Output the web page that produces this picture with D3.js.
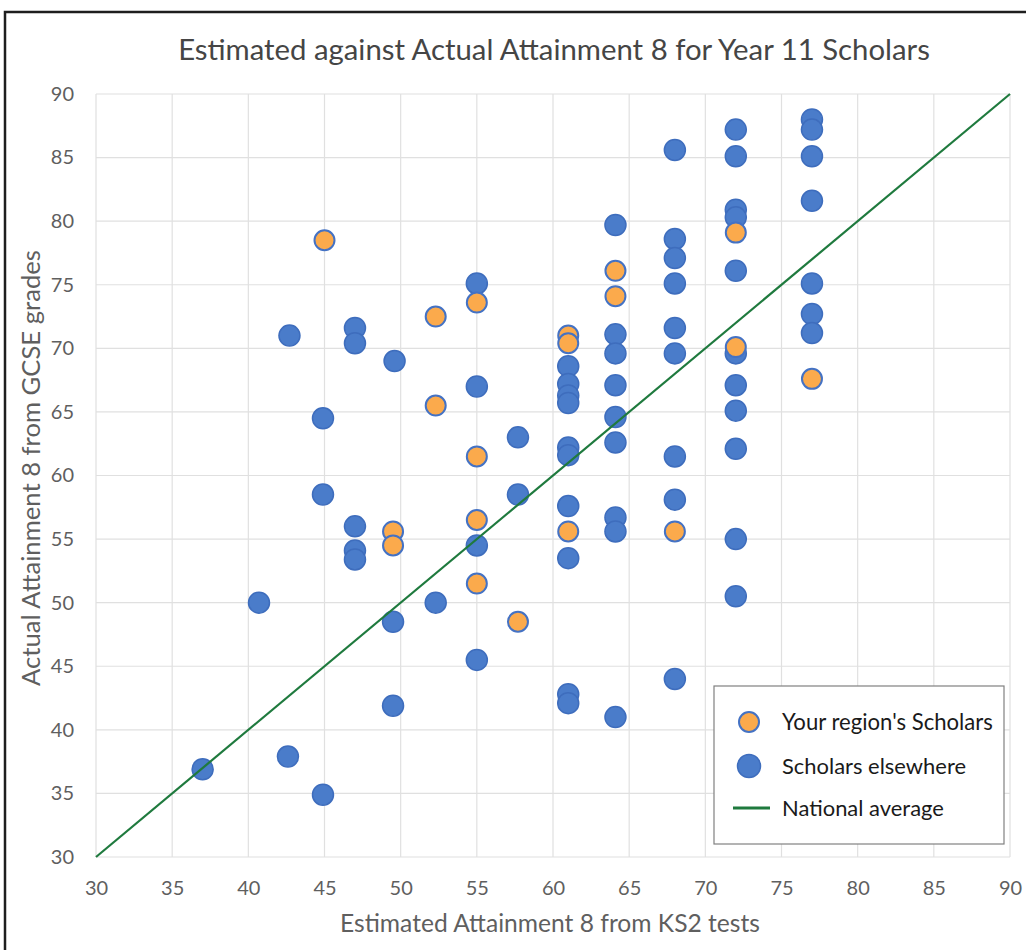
<!DOCTYPE html>
<html>
<head>
<meta charset="utf-8">
<script src="https://cdn.jsdelivr.net/npm/d3@7"></script>
<style>
  html, body { margin: 0; padding: 0; background: #fff; }
  svg { display: block; }
</style>
</head>
<body>
<svg id="chart" width="1026" height="950"></svg>
<script>
// ---- Data ----
const titleText = "Estimated against Actual Attainment 8 for Year 11 Scholars";
const xAxisTitle = "Estimated Attainment 8 from KS2 tests";
const yAxisTitle = "Actual Attainment 8 from GCSE grades";
const xTicks = [30, 35, 40, 45, 50, 55, 60, 65, 70, 75, 80, 85, 90];
const yTicks = [30, 35, 40, 45, 50, 55, 60, 65, 70, 75, 80, 85, 90];
const seriesNames = ["Your region's Scholars", "Scholars elsewhere", "National average"];

// Your region's Scholars [estimated, actual]
const regionScholars = [
  [45, 78.5], [49.5, 55.6], [49.5, 54.5], [52.3, 72.5], [52.3, 65.5],
  [55, 73.6], [55, 61.5], [55, 56.5], [55, 51.5], [57.7, 48.5],
  [61, 71.0], [61, 70.4], [61, 55.6], [64.1, 76.1], [64.1, 74.1],
  [68, 55.6], [72, 79.1], [72, 70.1], [77, 67.6]
];

// Scholars elsewhere [estimated, actual]
const elsewhereScholars = [
  [37, 36.9], [40.7, 50.0], [42.7, 71.0], [42.6, 37.9],
  [44.9, 64.5], [44.9, 58.5], [44.9, 34.9],
  [47, 71.6], [47, 70.4], [47, 56.0], [47, 54.1], [47, 53.4],
  [49.6, 69.0], [49.5, 48.5], [49.5, 41.9], [52.3, 50.0],
  [55, 75.1], [55, 67.0], [55, 54.5], [55, 45.5],
  [57.7, 63.0], [57.7, 58.5],
  [61, 68.6], [61, 67.2], [61, 66.3], [61, 65.7], [61, 62.2], [61, 61.6], [61, 57.6], [61, 53.5], [61, 42.8], [61, 42.1],
  [64.1, 79.7], [64.1, 71.1], [64.1, 69.6], [64.1, 67.1], [64.1, 64.6], [64.1, 62.6], [64.1, 56.7], [64.1, 55.6], [64.1, 41.0],
  [68, 85.6], [68, 78.6], [68, 77.1], [68, 75.1], [68, 71.6], [68, 69.6], [68, 61.5], [68, 58.1], [68, 44.0],
  [72, 87.2], [72, 85.1], [72, 80.9], [72, 80.3], [72, 76.1], [72, 69.6], [72, 67.1], [72, 65.1], [72, 62.1], [72, 55.0], [72, 50.5],
  [77, 88.0], [77, 87.2], [77, 85.1], [77, 81.6], [77, 75.1], [77, 72.7], [77, 71.2]
];

// National average line endpoints
const nationalAverage = [[30, 30], [90, 90]];

// ---- Drawing ----
const svg = d3.select("#chart");
const FONT = "Lato, 'Open Sans', sans-serif";
const plot = { left: 96, right: 1010, top: 94, bottom: 857 };

const x = d3.scaleLinear().domain([30, 90]).range([plot.left, plot.right]);
const y = d3.scaleLinear().domain([30, 90]).range([plot.bottom, plot.top]);

// outer frame (partial, as in scan)
svg.append("path")
  .attr("d", "M5,950 L5,12 L1026,12")
  .attr("fill", "none").attr("stroke", "#1e1e1e").attr("stroke-width", 2.5);

function fitText(sel, target) {
  const w = sel.node().getComputedTextLength();
  const fs = parseFloat(sel.attr("font-size"));
  sel.attr("font-size", (fs * target / w).toFixed(2));
}

// title
const t = svg.append("text")
  .attr("x", 554).attr("y", 60)
  .attr("text-anchor", "middle")
  .attr("font-family", FONT).attr("font-size", 26)
  .attr("fill", "#454545")
  .text(titleText);
fitText(t, 752);

// gridlines
const grid = svg.append("g");
grid.selectAll("line.v").data(xTicks).join("line")
  .attr("x1", d => x(d)).attr("x2", d => x(d))
  .attr("y1", plot.top).attr("y2", plot.bottom)
  .attr("stroke", "#e0e0e0").attr("stroke-width", 1.2);
grid.selectAll("line.h").data(yTicks).join("line")
  .attr("x1", plot.left).attr("x2", plot.right)
  .attr("y1", d => y(d)).attr("y2", d => y(d))
  .attr("stroke", "#e0e0e0").attr("stroke-width", 1.2);

// axes (labels only, via d3 axis)
const xAxis = d3.axisBottom(x).tickValues(xTicks).tickSize(0).tickPadding(24);
const gx = svg.append("g").attr("transform", `translate(0,${plot.bottom})`).call(xAxis);
gx.select(".domain").remove();
gx.selectAll("text").attr("font-family", FONT).attr("font-size", 20).attr("fill", "#5f5f5f");

const yAxis = d3.axisLeft(y).tickValues(yTicks).tickSize(0).tickPadding(22);
const gy = svg.append("g").attr("transform", `translate(${plot.left},0)`).call(yAxis);
gy.select(".domain").remove();
gy.selectAll("text").attr("font-family", FONT).attr("font-size", 20).attr("fill", "#5f5f5f");

// axis titles
const xt = svg.append("text")
  .attr("x", 550).attr("y", 932)
  .attr("text-anchor", "middle")
  .attr("font-family", FONT).attr("font-size", 22)
  .attr("fill", "#5f5f5f")
  .text(xAxisTitle);
fitText(xt, 420);

const yt = svg.append("text")
  .attr("transform", "translate(40,468) rotate(-90)")
  .attr("text-anchor", "middle")
  .attr("font-family", FONT).attr("font-size", 22)
  .attr("fill", "#5f5f5f")
  .text(yAxisTitle);
fitText(yt, 436);

// points
const R = 10.5;
const blueFill = "#4a7cca", blueStroke = "#3e6dbd";
const orangeFill = "#fbaa4c", orangeStroke = "#4472c4";

svg.append("g").selectAll("circle").data(elsewhereScholars).join("circle")
  .attr("cx", d => x(d[0])).attr("cy", d => y(d[1])).attr("r", R)
  .attr("fill", blueFill).attr("stroke", blueStroke).attr("stroke-width", 1.5);

svg.append("g").selectAll("circle").data(regionScholars).join("circle")
  .attr("cx", d => x(d[0])).attr("cy", d => y(d[1])).attr("r", R - 0.5)
  .attr("fill", orangeFill).attr("stroke", orangeStroke).attr("stroke-width", 2);

// national average line
svg.append("path")
  .datum(nationalAverage)
  .attr("d", d3.line().x(d => x(d[0])).y(d => y(d[1])))
  .attr("fill", "none").attr("stroke", "#1f7a3e").attr("stroke-width", 2.2);

// legend
const lg = svg.append("g");
lg.append("rect")
  .attr("x", 714).attr("y", 686).attr("width", 290).attr("height", 158)
  .attr("fill", "#fff").attr("stroke", "#808080").attr("stroke-width", 1.2);
lg.append("circle").attr("cx", 749).attr("cy", 722).attr("r", R - 0.5)
  .attr("fill", orangeFill).attr("stroke", orangeStroke).attr("stroke-width", 2);
lg.append("circle").attr("cx", 749).attr("cy", 766).attr("r", R + 1)
  .attr("fill", blueFill).attr("stroke", blueStroke).attr("stroke-width", 1.5);
lg.append("line").attr("x1", 733).attr("x2", 770).attr("y1", 808).attr("y2", 808)
  .attr("stroke", "#1f7a3e").attr("stroke-width", 3);
const legendY = [722, 766, 808];
const legendW = [211, 184, 162];
seriesNames.forEach((n, i) => {
  const tx = lg.append("text")
    .attr("x", 782).attr("y", legendY[i])
    .attr("dy", "0.35em")
    .attr("font-family", FONT).attr("font-size", 19)
    .attr("fill", "#1a1a1a")
    .text(n);
  fitText(tx, legendW[i]);
});
</script>
</body>
</html>
